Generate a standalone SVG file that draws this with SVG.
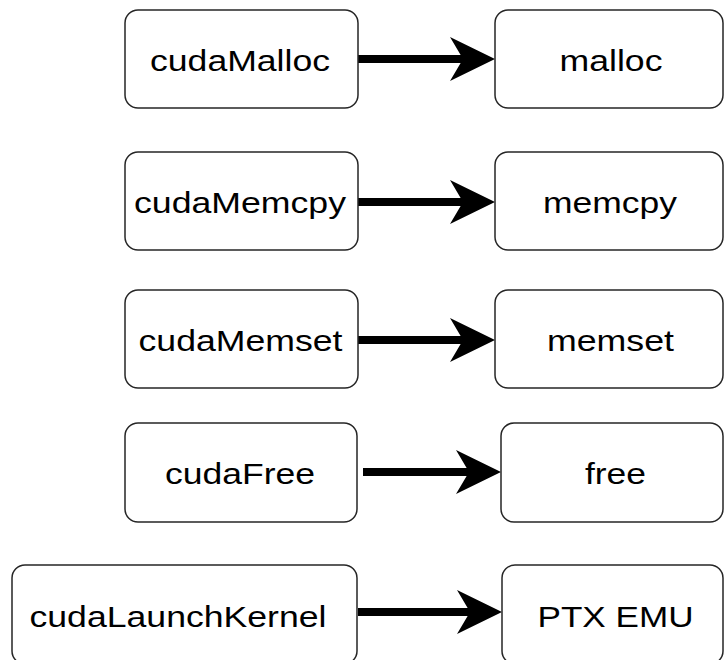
<svg xmlns="http://www.w3.org/2000/svg" width="724" height="660" viewBox="0 0 724 660">
<style>
.box{fill:#fff;stroke:#262626;stroke-width:1.5}
.lbl{font-family:"Liberation Sans",Arial,sans-serif;font-size:29px;fill:#000;text-anchor:middle}
.ln{stroke:#000;stroke-width:8;fill:none}
.hd{fill:#000}
</style>
<rect width="724" height="660" fill="#fff"/>
<g id="connectors">
<path class="ln" d="M358,59 H470"/><path class="hd" d="M450,37 L495,59 L450,81 L463,59 Z"/>
<path class="ln" d="M358,202 H470"/><path class="hd" d="M450,180 L495,202 L450,224 L463,202 Z"/>
<path class="ln" d="M358,340 H470"/><path class="hd" d="M450,318 L495,340 L450,362 L463,340 Z"/>
<path class="ln" d="M363,472 H476"/><path class="hd" d="M456,450 L501,472 L456,494 L469,472 Z"/>
<path class="ln" d="M358,612 H477"/><path class="hd" d="M457,590 L502,612 L457,634 L470,612 Z"/>
</g>
<g id="cudaMalloc"><rect class="box" x="125" y="10" width="233" height="98" rx="13"/><text class="lbl" x="240" y="71" textLength="180" lengthAdjust="spacingAndGlyphs">cudaMalloc</text></g>
<g id="malloc"><rect class="box" x="495" y="10" width="228" height="98" rx="13"/><text class="lbl" x="611" y="71" textLength="103" lengthAdjust="spacingAndGlyphs">malloc</text></g>
<g id="cudaMemcpy"><rect class="box" x="125" y="152" width="233" height="98" rx="13"/><text class="lbl" x="240" y="213" textLength="212" lengthAdjust="spacingAndGlyphs">cudaMemcpy</text></g>
<g id="memcpy"><rect class="box" x="495" y="152" width="228" height="98" rx="13"/><text class="lbl" x="610" y="213" textLength="134" lengthAdjust="spacingAndGlyphs">memcpy</text></g>
<g id="cudaMemset"><rect class="box" x="125" y="290" width="233" height="98" rx="13"/><text class="lbl" x="240.5" y="351" textLength="204" lengthAdjust="spacingAndGlyphs">cudaMemset</text></g>
<g id="memset"><rect class="box" x="495" y="290" width="228" height="98" rx="13"/><text class="lbl" x="610.5" y="351" textLength="127" lengthAdjust="spacingAndGlyphs">memset</text></g>
<g id="cudaFree"><rect class="box" x="125" y="423" width="232" height="99" rx="13"/><text class="lbl" x="240" y="484" textLength="150" lengthAdjust="spacingAndGlyphs">cudaFree</text></g>
<g id="free"><rect class="box" x="501" y="423" width="222" height="99" rx="13"/><text class="lbl" x="615.5" y="484" textLength="61" lengthAdjust="spacingAndGlyphs">free</text></g>
<g id="cudaLaunchKernel"><rect class="box" x="12" y="565" width="345" height="99" rx="13"/><text class="lbl" x="178" y="627" textLength="297" lengthAdjust="spacingAndGlyphs">cudaLaunchKernel</text></g>
<g id="PTX_EMU"><rect class="box" x="502" y="565" width="221" height="99" rx="13"/><text class="lbl" x="615.5" y="627" textLength="156" lengthAdjust="spacingAndGlyphs">PTX EMU</text></g>
</svg>
